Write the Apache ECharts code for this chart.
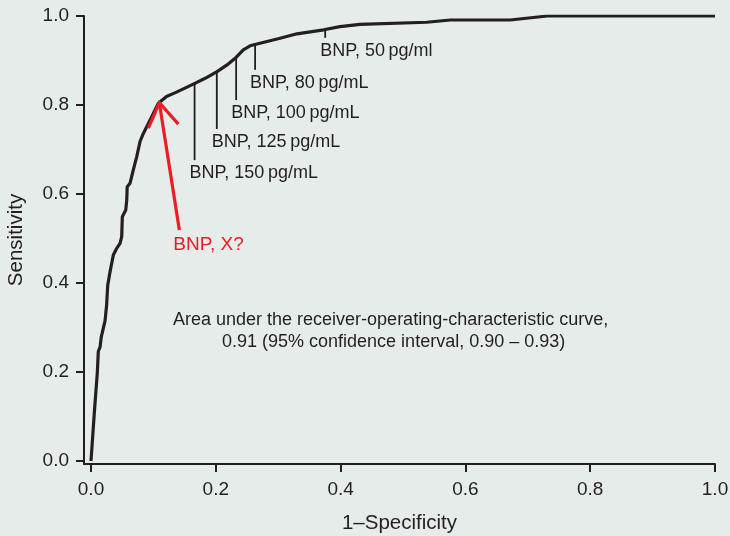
<!DOCTYPE html>
<html>
<head>
<meta charset="utf-8">
<script src="https://cdn.jsdelivr.net/npm/echarts@6/dist/echarts.min.js"></script>
<style>
  html, body { margin: 0; padding: 0; background: #e6ece9; }
  #chart { width: 730px; height: 536px; }
</style>
</head>
<body>
<div id="chart"></div>
<script>
// ROC curve for BNP: 1 - specificity (false-positive rate) vs sensitivity
const rocFpr = [0, 0.0053, 0.0101, 0.0117, 0.0145, 0.0165, 0.0225, 0.025, 0.0268, 0.0305, 0.0358, 0.0412,
  0.0465, 0.0492, 0.0502, 0.0557, 0.0573, 0.058, 0.0625, 0.0678, 0.0733, 0.0786, 0.0839, 0.0893,
  0.0999, 0.108, 0.121, 0.137, 0.164, 0.183, 0.202, 0.218, 0.231, 0.244, 0.255, 0.266, 0.303,
  0.330, 0.373, 0.399, 0.431, 0.538, 0.576, 0.672, 0.731, 1.0];
const rocTpr = [0, 0.108, 0.198, 0.246, 0.256, 0.279, 0.315, 0.35, 0.395, 0.425, 0.463, 0.478,
  0.489, 0.504, 0.549, 0.564, 0.587, 0.616, 0.624, 0.654, 0.684, 0.718, 0.736, 0.751,
  0.781, 0.804, 0.819, 0.829, 0.847, 0.860, 0.875, 0.890, 0.905, 0.924, 0.933, 0.937, 0.950,
  0.960, 0.969, 0.976, 0.981, 0.986, 0.991, 0.991, 1.0, 1.0];

// BNP cut-off markers: position on the curve and where the pointer line stops
const cutoffLabels = ['BNP, 150\u2009pg/mL', 'BNP, 125\u2009pg/mL', 'BNP, 100\u2009pg/mL', 'BNP, 80\u2009pg/mL', 'BNP, 50\u2009pg/ml'];
const cutoffFpr = [0.166, 0.2016, 0.2326, 0.263, 0.3753];
const cutoffTop = [0.848, 0.875, 0.907, 0.936, 0.970];
const cutoffBottom = [0.676, 0.746, 0.811, 0.879, 0.951];

// Red arrow pointing at the unknown cut-off
const arrowTail = [0.1416, 0.519];
const arrowTip = [0.1095, 0.805];
const arrowBarbLeft = [0.0919, 0.748];
const arrowBarbRight = [0.140, 0.757];
const arrowLabel = 'BNP, X?';

const tickValues = [0, 0.2, 0.4, 0.6, 0.8, 1.0];
const xName = '1\u2013Specificity';
const yName = 'Sensitivity';
const aucLine1 = 'Area under the receiver-operating-characteristic curve,';
const aucLine2 = '0.91 (95% confidence interval, 0.90 \u2013 0.93)';

const ink = '#231f20';
const red = '#ec1c24';
const font = '"Liberation Sans", Arial, Helvetica, sans-serif';

const rocData = rocFpr.map((x, i) => [x, rocTpr[i]]);
const cutoffData = cutoffFpr.map((x, i) => [x, cutoffTop[i], cutoffBottom[i], i]);

const chart = echarts.init(document.getElementById('chart'), null, { renderer: 'canvas' });

chart.setOption({
  backgroundColor: '#e6ece9',
  animation: false,
  grid: { left: 84, right: 15, top: 16, bottom: 72, containLabel: false, outerBoundsMode: 'none' },
  xAxis: {
    type: 'value',
    min: -7 / 624,
    max: 1.0,
    name: xName,
    nameLocation: 'middle',
    nameGap: 49,
    nameTextStyle: { color: ink, fontSize: 20.5, fontFamily: font },
    splitLine: { show: false },
    axisLine: { show: true, onZero: false, lineStyle: { color: ink, width: 2 } },
    axisTick: { show: true, customValues: tickValues, length: 8, lineStyle: { color: ink, width: 2 } },
    axisLabel: {
      customValues: tickValues,
      margin: 16,
      color: ink, fontSize: 19, fontFamily: font,
      formatter: v => v.toFixed(1)
    }
  },
  yAxis: {
    type: 'value',
    min: -3 / 445,
    max: 1.0,
    name: yName,
    nameLocation: 'middle',
    nameGap: 57,
    nameRotate: 90,
    nameTextStyle: { color: ink, fontSize: 20.5, fontFamily: font },
    splitLine: { show: false },
    axisLine: { show: true, onZero: false, lineStyle: { color: ink, width: 2 } },
    axisTick: { show: true, customValues: tickValues, length: 8, lineStyle: { color: ink, width: 2 } },
    axisLabel: {
      customValues: tickValues,
      margin: 15,
      color: ink, fontSize: 19, fontFamily: font,
      formatter: v => v.toFixed(1)
    }
  },
  series: [
    {
      type: 'custom',
      name: 'cutoffs',
      data: cutoffData,
      z: 2,
      renderItem: (params, api) => {
        const top = api.coord([api.value(0), api.value(1)]);
        const bottom = api.coord([api.value(0), api.value(2)]);
        const idx = api.value(3);
        return {
          type: 'group',
          children: [
            {
              type: 'line',
              shape: { x1: top[0], y1: top[1], x2: bottom[0], y2: bottom[1] },
              style: { stroke: ink, lineWidth: 1.8 }
            },
            {
              type: 'text',
              x: bottom[0] - 5,
              y: bottom[1] + 4,
              style: {
                text: cutoffLabels[idx],
                fill: ink,
                font: '18px ' + font,
                textAlign: 'left',
                textVerticalAlign: 'top'
              }
            }
          ]
        };
      }
    },
    {
      type: 'line',
      name: 'ROC',
      data: rocData,
      showSymbol: false,
      symbol: 'none',
      z: 3,
      lineStyle: { color: ink, width: 3.2, join: 'round' }
    },
    {
      type: 'custom',
      name: 'arrow',
      data: [[arrowTip[0], arrowTip[1]]],
      z: 4,
      renderItem: (params, api) => {
        const tip = api.coord(arrowTip);
        const tail = api.coord(arrowTail);
        const bl = api.coord(arrowBarbLeft);
        const br = api.coord(arrowBarbRight);
        return {
          type: 'group',
          children: [
            { type: 'polyline', shape: { points: [tail, tip] }, style: { stroke: red, lineWidth: 3.2, fill: null } },
            { type: 'polyline', shape: { points: [bl, tip, br] }, style: { stroke: red, lineWidth: 3.2, fill: null, lineJoin: 'miter' } },
            {
              type: 'text',
              x: tail[0] - 6,
              y: tail[1] + 5,
              style: { text: arrowLabel, fill: red, font: '19px ' + font, textAlign: 'left', textVerticalAlign: 'top' }
            }
          ]
        };
      }
    }
  ],
  graphic: [
    {
      type: 'text', left: 173, top: 311,
      style: { text: aucLine1, fill: ink, font: '18px ' + font }
    },
    {
      type: 'text', left: 222, top: 333,
      style: { text: aucLine2, fill: ink, font: '18px ' + font }
    }
  ]
});
</script>
</body>
</html>
